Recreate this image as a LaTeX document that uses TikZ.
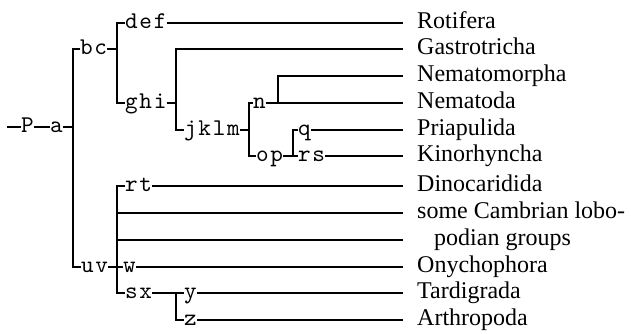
\documentclass[tikz,border=0pt]{standalone}
\usepackage{fontspec}
\setmainfont{Liberation Serif}
\newfontfamily\cladefont{lmmono10-regular.otf}[LetterSpace=7]
\begin{document}
\begin{tikzpicture}[x=1pt,y=-1pt,
  tree/.style={line width=2pt, line join=miter},
  clade/.style={font=\cladefont\fontsize{24}{24}\selectfont,
    inner sep=0pt, anchor=west, text height=16pt, text depth=5pt},
  taxon/.style={font=\rmfamily\fontsize{24}{24}\selectfont, inner sep=0pt,
    anchor=west, text height=16pt, text depth=5pt}]
\useasboundingbox (0,0) rectangle (631,334);

% row heights of the terminal taxa
\def\rA{22.7}\def\rB{49.3}\def\rC{76}\def\rD{102.7}\def\rE{130}\def\rF{156}
\def\rG{185.7}\def\rH{212.5}\def\rI{239.5}\def\rJ{266.5}\def\rK{293.3}\def\rL{320}

% ends of the terminal branches
\foreach \n/\r in {1/\rA,2/\rB,3/\rC,4/\rD,5/\rE,6/\rF,7/\rG,8/\rH,9/\rI,10/\rJ,11/\rK,12/\rL}
  \coordinate (e\n) at (403,\r);

% terminal taxa
\node[taxon] (t1)  at (417,\rA) {Rotifera};
\node[taxon] (t2)  at (417,\rB) {Gastrotricha};
\node[taxon] (t3)  at (417,\rC) {Nematomorpha};
\node[taxon] (t4)  at (417,\rD) {Nematoda};
\node[taxon] (t5)  at (417,\rE) {Priapulida};
\node[taxon] (t6)  at (417,\rF) {Kinorhyncha};
\node[taxon] (t7)  at (417,\rG) {Dinocaridida};
\node[taxon] (t8)  at (417,\rH) {some Cambrian lobo-};
\node[taxon] (t9)  at (434,\rI) {podian groups};
\node[taxon] (t10) at (417,\rJ) {Onychophora};
\node[taxon] (t11) at (417,\rK) {Tardigrada};
\node[taxon] (t12) at (417,\rL) {Arthropoda};

% internal node labels
\node[clade] (P)    at (21,127)  {P};
\node[clade] (a)    at (50,127)  {a};
\node[clade] (bc)   at (80,\rB)  {bc};
\node[clade] (def)  at (125,\rA) {def};
\node[clade] (ghi)  at (125,\rD) {ghi};
\node[clade] (jklm) at (184,\rE) {jklm};
\node[clade] (n)    at (253,\rD) {n};
\node[clade] (op)   at (256,\rF) {op};
\node[clade] (q)    at (298,\rE) {q};
\node[clade] (rs)   at (298,\rF) {rs};
\node[clade] (uv)   at (81,\rJ)  {uv};
\node[clade] (rt)   at (125,\rG) {rt};
\node[clade] (w)    at (123,\rJ) {w};
\node[clade] (sx)   at (125,\rK) {sx};
\node[clade] (y)    at (184,\rK) {y};
\node[clade] (z)    at (184,\rL) {z};

% branching points
\coordinate (root) at (7,127);
\coordinate (A) at (73,127);
\coordinate (B) at (117,\rB);
\coordinate (C) at (176,\rD);
\coordinate (D) at (249,\rE);
\coordinate (E) at (278,\rD);
\coordinate (F) at (293,\rF);
\coordinate (G) at (117,\rJ);
\coordinate (H) at (176,\rK);

% stem
\draw[tree] (root) -- (P.west);
\draw[tree] (P.east) -- (a.west);
\draw[tree] (a.east) -- (A);
\draw[tree] (bc.west) -| (A) |- (uv.west);

% bc clade
\draw[tree] (bc.east) -- (B);
\draw[tree] (def.west) -| (B) |- (ghi.west);
\draw[tree] (def.east) -- (e1);
\draw[tree] (ghi.east) -- (C);
\draw[tree] (e2) -| (C) |- (jklm.west);
\draw[tree] (jklm.east) -- (D);
\draw[tree] (n.west) -| (D) |- (op.west);
\draw[tree] (n.east) -- (e4);
\draw[tree] (e3) -| (E);
\draw[tree] (op.east) -- (rs.west);
\draw[tree] (q.west) -| (F);
\draw[tree] (q.east) -- (e5);
\draw[tree] (rs.east) -- (e6);

% uv clade
\draw[tree] (uv.east) -- (w.west);
\draw[tree] (rt.west) -| (G) |- (sx.west);
\draw[tree] (rt.east) -- (e7);
\draw[tree] (G |- e8) -- (e8);
\draw[tree] (G |- e9) -- (e9);
\draw[tree] (w.east) -- (e10);
\draw[tree] (sx.east) -- (y.west);
\draw[tree] (H) |- (z.west);
\draw[tree] (y.east) -- (e11);
\draw[tree] (z.east) -- (e12);
\end{tikzpicture}
\end{document}
